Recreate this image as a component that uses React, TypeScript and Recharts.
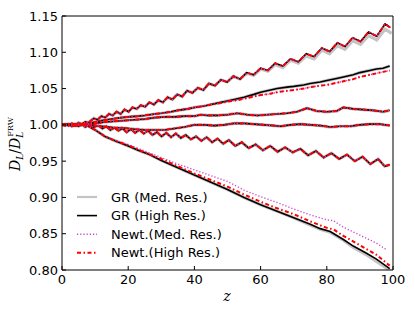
import { LineChart, Line, XAxis, YAxis } from 'recharts';

// [z, D_L / D_L^FRW]; six ray bundles, four runs each
const xTicks = [0, 20, 40, 60, 80, 100];
const yTicks = [0.8, 0.85, 0.9, 0.95, 1.0, 1.05, 1.1, 1.15];

const fam1Early = [
  [0, 1.000], [1, 1.001], [2, 0.999], [3, 1.002], [4, 0.999], [5, 1.003], [6, 1.001], [7, 1.004], [8, 1.003],
  [9.6, 1.009], [10.75, 1.007], [11.9, 1.012], [13.05, 1.010], [14.2, 1.015], [15.35, 1.013], [16.5, 1.018],
  [17.7, 1.015], [18.9, 1.021], [20.1, 1.018], [21.3, 1.024], [22.55, 1.022], [23.8, 1.027], [25.1, 1.025],
  [26.4, 1.031], [27.75, 1.028], [29.1, 1.034], [30.5, 1.031], [31.9, 1.038], [33.35, 1.035], [34.8, 1.042],
  [36.3, 1.039], [37.8, 1.047], [39.4, 1.044], [41.0, 1.051], [42.7, 1.048], [44.4, 1.057], [46.2, 1.054],
  [48.0, 1.062], [49.9, 1.059], [51.8, 1.067], [53.8, 1.063],
];
const fam1HighLate = [
  [55.8, 1.072], [57.9, 1.069], [60.0, 1.078], [62.2, 1.075], [64.4, 1.085], [66.7, 1.081], [69.0, 1.091],
  [71.4, 1.087], [73.8, 1.098], [76.15, 1.094], [78.5, 1.106], [80.85, 1.101], [83.2, 1.113], [85.5, 1.108],
  [87.8, 1.120], [90.2, 1.115], [92.6, 1.128], [95.1, 1.122], [97.6, 1.139], [99.2, 1.134],
];
const fam1MedLate = [
  [55.8, 1.071], [57.9, 1.068], [60.0, 1.077], [62.2, 1.074], [64.4, 1.083], [66.7, 1.079], [69.0, 1.089],
  [71.4, 1.085], [73.8, 1.095], [76.15, 1.091], [78.5, 1.103], [80.85, 1.098], [83.2, 1.109], [85.5, 1.104],
  [87.8, 1.116], [90.2, 1.111], [92.6, 1.123], [95.1, 1.117], [97.6, 1.132], [99.6, 1.126],
];

const fam2Early = [
  [0, 1.000], [3, 1.000], [6, 1.001], [8, 1.002], [10, 1.004], [12, 1.006], [15, 1.008], [18, 1.010],
  [20, 1.011], [23, 1.012], [25, 1.013], [28, 1.015], [30, 1.016], [33, 1.018], [35, 1.020], [38, 1.022],
  [40, 1.024], [43, 1.026], [45, 1.028],
];
const fam2GRLate = [
  [48, 1.031], [50, 1.033], [53, 1.036], [55, 1.038], [58, 1.042], [60, 1.045], [63, 1.048], [65, 1.050],
  [68, 1.052], [70, 1.053], [73, 1.055], [75, 1.057], [78, 1.059], [80, 1.061], [83, 1.064], [85, 1.066],
  [88, 1.069], [90, 1.072], [93, 1.075], [95, 1.077], [97, 1.078], [99, 1.081],
];
const fam2NewtLate = [
  [48, 1.030], [50, 1.032], [53, 1.034], [55, 1.036], [58, 1.039], [60, 1.041], [63, 1.043], [65, 1.045],
  [68, 1.047], [70, 1.048], [73, 1.050], [75, 1.052], [78, 1.054], [80, 1.055], [83, 1.058], [85, 1.060],
  [88, 1.063], [90, 1.066], [93, 1.069], [95, 1.071], [97, 1.073], [99, 1.075],
];

const fam3 = [
  [0, 1.000], [4, 1.001], [8, 1.001], [10, 1.002], [13, 1.004], [16, 1.005], [19, 1.006], [22, 1.007],
  [25, 1.008], [28, 1.010], [31, 1.011], [34, 1.011], [37, 1.012], [40, 1.012], [42, 1.014], [44, 1.013],
  [47, 1.013], [50, 1.014], [53, 1.016], [56, 1.014], [59, 1.013], [62, 1.014], [65, 1.015], [68, 1.016],
  [71, 1.018], [74, 1.023], [77, 1.019], [80, 1.018], [83, 1.019], [85, 1.024], [88, 1.022], [91, 1.021],
  [94, 1.020], [97, 1.018], [99, 1.020],
];

const fam4 = [
  [0, 1.000], [4, 0.999], [8, 1.000], [10, 0.999], [12, 0.998], [14, 0.997], [16, 0.996], [18, 0.996],
  [20, 0.995], [22, 0.994], [25, 0.993], [28, 0.993], [31, 0.993], [34, 0.995], [37, 0.997], [40, 1.000],
  [43, 1.000], [46, 0.999], [49, 1.000], [52, 1.002], [55, 1.002], [58, 1.001], [61, 1.000], [64, 0.999],
  [66, 0.998], [69, 1.000], [72, 1.001], [75, 1.000], [78, 0.999], [81, 0.997], [84, 0.998], [87, 0.998],
  [90, 1.000], [93, 1.001], [96, 1.001], [99, 0.999],
];

const fam5 = [
  [0, 1.000], [1, 0.999], [2, 1.001], [3, 0.998], [4, 1.001], [5, 0.998], [6, 1.001], [7, 0.997], [8, 1.000],
  [9.5, 0.997], [11.0, 0.999], [12.2, 0.995], [13.4, 0.998], [14.6, 0.993], [15.8, 0.996], [17.05, 0.992],
  [18.3, 0.995], [19.55, 0.990], [20.8, 0.994], [22.1, 0.989], [23.4, 0.993], [24.7, 0.988], [26.0, 0.992],
  [27.35, 0.986], [28.7, 0.990], [30.1, 0.984], [31.5, 0.989], [32.95, 0.983], [34.4, 0.988], [35.9, 0.982],
  [37.4, 0.986], [38.95, 0.980], [40.5, 0.984], [42.1, 0.978], [43.7, 0.983], [45.35, 0.976], [47.0, 0.981],
  [48.7, 0.974], [50.4, 0.979], [52.35, 0.971], [54.3, 0.976], [56.4, 0.968], [58.5, 0.973], [60.7, 0.965],
  [62.9, 0.971], [65.15, 0.963], [67.4, 0.969], [69.7, 0.962], [72.0, 0.967], [74.35, 0.958], [76.7, 0.964],
  [79.05, 0.955], [81.4, 0.961], [83.75, 0.953], [86.1, 0.959], [88.45, 0.950], [90.8, 0.956], [93.15, 0.946],
  [95.5, 0.953], [97.5, 0.943], [99, 0.945],
];

const fam6Early = [[0, 1.000], [2, 1.001], [4, 0.999], [6, 1.001], [8, 0.998], [10, 0.993], [13, 0.984]];
const fam6GRHigh = [
  [16, 0.978], [20, 0.971], [23, 0.965], [26, 0.960], [30, 0.951], [35, 0.941], [40, 0.931], [45, 0.921],
  [50, 0.911], [55, 0.900], [60, 0.890], [65, 0.881], [70, 0.872], [75, 0.863], [78, 0.857], [81, 0.853],
  [85, 0.842], [88, 0.833], [92, 0.823], [95, 0.815], [99, 0.802],
];
const fam6GRMed = [
  [16, 0.978], [20, 0.971], [23, 0.965], [26, 0.960], [30, 0.951], [35, 0.941], [40, 0.931], [45, 0.921],
  [50, 0.911], [55, 0.900], [60, 0.890], [65, 0.881], [70, 0.872], [75, 0.862], [78, 0.856], [81, 0.852],
  [85, 0.841], [88, 0.831], [92, 0.821], [95, 0.812], [99.6, 0.798],
];
const fam6NewtMed = [
  [16, 0.979], [20, 0.973], [25, 0.964], [30, 0.955], [35, 0.946], [40, 0.938], [45, 0.930], [50, 0.922],
  [55, 0.910], [60, 0.901], [65, 0.893], [70, 0.884], [75, 0.876], [80, 0.869], [82, 0.868], [85, 0.859],
  [90, 0.848], [95, 0.837], [98, 0.828],
];
const fam6NewtHigh = [
  [16, 0.978], [20, 0.972], [25, 0.962], [30, 0.953], [35, 0.943], [40, 0.933], [45, 0.924], [50, 0.915],
  [55, 0.904], [60, 0.894], [65, 0.885], [70, 0.877], [75, 0.867], [80, 0.858], [82, 0.856], [85, 0.847],
  [90, 0.834], [95, 0.821], [99, 0.806],
];

const pts = (a: number[][]) => a.map(([z, v]) => ({ z, v }));

const grMed = [
  [...fam1Early, ...fam1MedLate], [...fam2Early, ...fam2GRLate], fam3, fam4, fam5, [...fam6Early, ...fam6GRMed],
].map(pts);
const grHigh = [
  [...fam1Early, ...fam1HighLate], [...fam2Early, ...fam2GRLate], fam3, fam4, fam5, [...fam6Early, ...fam6GRHigh],
].map(pts);
const newtMed = [
  [...fam1Early, ...fam1HighLate], [...fam2Early, ...fam2NewtLate], fam3, fam4, fam5, [...fam6Early, ...fam6NewtMed],
].map(pts);
const newtHigh = [
  [...fam1Early, ...fam1HighLate], [...fam2Early, ...fam2NewtLate], fam3, fam4, fam5, [...fam6Early, ...fam6NewtHigh],
].map(pts);

const STYLES = {
  grMed: { stroke: '#c4c4c4', strokeWidth: 3.2 },
  grHigh: { stroke: '#000000', strokeWidth: 1.6 },
  newtMed: { stroke: '#cc44cc', strokeWidth: 1.4, strokeDasharray: '1.2 2' },
  newtHigh: { stroke: '#ff0000', strokeWidth: 2, strokeDasharray: '4 2.5 1.5 2.5' },
};

const legendItems = [
  { label: 'GR (Med. Res.)', style: STYLES.grMed },
  { label: 'GR (High Res.)', style: STYLES.grHigh },
  { label: 'Newt.(Med. Res.)', style: STYLES.newtMed },
  { label: 'Newt.(High Res.)', style: STYLES.newtHigh },
];

const tickFont = { fill: '#000', fontSize: 13, fontFamily: 'DejaVu Sans' };

export default function App() {
  const groups: [string, any[]][] = [
    ['grMed', grMed],
    ['grHigh', grHigh],
    ['newtMed', newtMed],
    ['newtHigh', newtHigh],
  ];
  return (
    <div style={{ position: 'absolute', left: 0, top: 0, width: 415, height: 312, background: '#fff' }}>
      <LineChart width={415} height={312} margin={{ top: 15, right: 21, bottom: 12, left: 0 }}>
        <XAxis
          dataKey="z"
          type="number"
          domain={[0, 100]}
          ticks={xTicks}
          allowDataOverflow
          height={30}
          tickSize={-4}
          tickMargin={9}
          tick={tickFont}
          stroke="#000"
        />
        <XAxis xAxisId="top" orientation="top" type="number" domain={[0, 100]} ticks={xTicks}
          allowDataOverflow height={1} tickSize={-4} tick={false} stroke="#000" />
        <YAxis
          type="number"
          domain={[0.8, 1.15]}
          ticks={yTicks}
          allowDataOverflow
          width={62}
          tickSize={-4}
          tickMargin={8}
          tick={tickFont}
          tickFormatter={(v: number) => v.toFixed(2)}
          stroke="#000"
        />
        <YAxis yAxisId="right" orientation="right" type="number" domain={[0.8, 1.15]} ticks={yTicks}
          allowDataOverflow width={1} tickSize={-4} tick={false} stroke="#000" />
        {groups.map(([key, series]) =>
          series.map((d, i) => (
            <Line
              key={`${key}-${i}`}
              data={d}
              dataKey="v"
              type="linear"
              dot={false}
              activeDot={false}
              isAnimationActive={false}
              {...(STYLES as any)[key]}
            />
          ))
        )}
      </LineChart>
      <svg width={415} height={312} style={{ position: 'absolute', left: 0, top: 0, pointerEvents: 'none' }}>
        <text
          x={20}
          y={144}
          transform="rotate(-90 20 144)"
          textAnchor="middle"
          fontFamily="DejaVu Serif"
          fontSize={14}
          fill="#000"
        >
          <tspan fontStyle="italic">D</tspan>
          <tspan fontStyle="italic" fontSize={9} dy={3}>L</tspan>
          <tspan dy={-3}>/</tspan>
          <tspan fontStyle="italic">D</tspan>
          <tspan fontStyle="italic" fontSize={9} dy={3}>L</tspan>
          <tspan fontSize={8} dx={-5} dy={-10}>FRW</tspan>
        </text>
        <text x={227} y={301} textAnchor="middle" fontFamily="DejaVu Serif" fontStyle="italic" fontSize={14} fill="#000">
          z
        </text>
        {legendItems.map((it, i) => {
          const y = 197 + i * 18.6;
          return (
            <g key={it.label}>
              <line x1={77} x2={97} y1={y} y2={y} {...it.style} strokeWidth={Math.min(it.style.strokeWidth, 2.2)} />
              <text x={111} y={y + 4.5} fontFamily="DejaVu Sans" fontSize={13} fill="#000">
                {it.label}
              </text>
            </g>
          );
        })}
      </svg>
    </div>
  );
}
